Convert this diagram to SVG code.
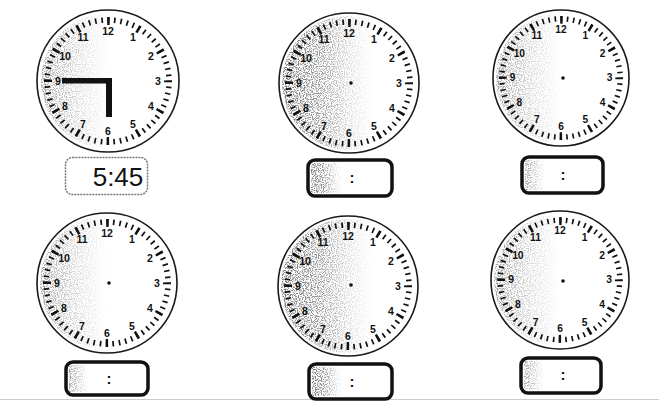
<svg xmlns="http://www.w3.org/2000/svg" width="659" height="401" viewBox="0 0 659 401">
<style>
.bg{fill:#fff}
.rim{fill:#fff;stroke:#1a1a1a;stroke-width:1.6}
.mt{fill:none;stroke:#111;stroke-width:5.5;stroke-dasharray:1.7 4.6879;stroke-dashoffset:0.85}
.ht{fill:none;stroke:#111;stroke-width:8;stroke-dasharray:2.6 28.816;stroke-dashoffset:1.3}
.num{font-family:"Liberation Sans",Arial,sans-serif;font-weight:bold;font-size:10.5px;fill:#111;text-anchor:middle}
.dot{fill:#111}
.box{fill:#fff;stroke:#111;stroke-width:3.5}
.colon{font-family:"Liberation Sans",Arial,sans-serif;font-weight:bold;font-size:15px;fill:#111;text-anchor:middle}
.hand{fill:#111}
</style>
<defs>
<filter id="speckle" x="0" y="0" width="1" height="1" color-interpolation-filters="sRGB">
<feTurbulence type="fractalNoise" baseFrequency="0.85" numOctaves="1" seed="4" result="noise"/>
<feColorMatrix in="noise" type="matrix" values="0 0 0 0 0.3  0 0 0 0 0.3  0 0 0 0 0.3  -6 0 0 0 3.3" result="dots"/>
<feComposite in="dots" in2="SourceGraphic" operator="in"/>
</filter>
<linearGradient id="heavy" x1="0" y1="0" x2="1" y2="0">
<stop offset="0" stop-color="#000" stop-opacity="0.75"/>
<stop offset="0.3" stop-color="#000" stop-opacity="0.55"/>
<stop offset="0.5" stop-color="#000" stop-opacity="0.2"/>
<stop offset="0.68" stop-color="#000" stop-opacity="0"/>
</linearGradient>
<linearGradient id="light" x1="0" y1="0" x2="1" y2="0">
<stop offset="0" stop-color="#000" stop-opacity="0.55"/>
<stop offset="0.25" stop-color="#000" stop-opacity="0.25"/>
<stop offset="0.5" stop-color="#000" stop-opacity="0"/>
</linearGradient>
</defs>
<rect class="bg" width="659" height="401"/>
<line x1="0" y1="399.5" x2="659" y2="399.5" stroke="#ccc" stroke-width="1"/>

<g id="clock1" transform="translate(108,81)">
<circle class="rim" r="71"/>
<circle r="67" fill="url(#light)" filter="url(#speckle)"/>
<circle class="mt" r="61"/>
<circle class="ht" r="60"/>
<text class="num" x="25" y="-40">1</text><text class="num" x="43" y="-21.5">2</text><text class="num" x="50" y="3.5">3</text><text class="num" x="43" y="28.5">4</text><text class="num" x="25" y="46.8">5</text><text class="num" x="0" y="53.5">6</text><text class="num" x="-25" y="46.8">7</text><text class="num" x="-43" y="28.5">8</text><text class="num" x="-50" y="3.5">9</text><text class="num" x="-43" y="-21.5">10</text><text class="num" x="-25" y="-40">11</text><text class="num" x="0" y="-46.5">12</text>
<rect class="hand" x="-46" y="-3" width="50" height="5.5"/>
<rect class="hand" x="-2" y="-3" width="6" height="39"/>
</g>
<g id="display1">
<rect x="65.5" y="157.5" width="82" height="37" rx="7" fill="#fff" stroke="#777" stroke-width="1.5" stroke-dasharray="2 1"/>
<text x="118" y="186" font-family="Liberation Sans,Arial,sans-serif" font-size="26" fill="#111" text-anchor="middle">5:45</text>
</g>

<g id="clock2" transform="translate(349,83)">
<circle class="rim" r="70"/>
<circle r="67" fill="url(#heavy)" filter="url(#speckle)"/>
<circle class="mt" r="61"/>
<circle class="ht" r="60"/>
<text class="num" x="25" y="-40">1</text><text class="num" x="43" y="-21.5">2</text><text class="num" x="50" y="3.5">3</text><text class="num" x="43" y="28.5">4</text><text class="num" x="25" y="46.8">5</text><text class="num" x="0" y="53.5">6</text><text class="num" x="-25" y="46.8">7</text><text class="num" x="-43" y="28.5">8</text><text class="num" x="-50" y="3.5">9</text><text class="num" x="-43" y="-21.5">10</text><text class="num" x="-25" y="-40">11</text><text class="num" x="0" y="-46.5">12</text>
<circle class="dot" cx="2" cy="0" r="1.8"/>
</g>
<g id="box2">
<rect class="box" x="308" y="160" width="84" height="36" rx="7"/>
<rect x="311" y="163" width="46" height="30" fill="url(#heavy)" filter="url(#speckle)"/>
<text class="colon" x="352" y="183">:</text>
</g>

<g id="clock3" transform="translate(561,78)">
<circle class="rim" r="68"/>
<circle r="65" fill="url(#light)" filter="url(#speckle)"/>
<g transform="scale(0.97)">
<circle class="mt" r="61"/>
<circle class="ht" r="60"/>
<text class="num" x="25" y="-40">1</text><text class="num" x="43" y="-21.5">2</text><text class="num" x="50" y="3.5">3</text><text class="num" x="43" y="28.5">4</text><text class="num" x="25" y="46.8">5</text><text class="num" x="0" y="53.5">6</text><text class="num" x="-25" y="46.8">7</text><text class="num" x="-43" y="28.5">8</text><text class="num" x="-50" y="3.5">9</text><text class="num" x="-43" y="-21.5">10</text><text class="num" x="-25" y="-40">11</text><text class="num" x="0" y="-46.5">12</text>
</g>
<circle class="dot" cx="2" cy="0" r="1.8"/>
</g>
<g id="box3">
<rect class="box" x="522" y="157" width="81" height="36" rx="7"/>
<rect x="525" y="160" width="40" height="30" fill="url(#light)" filter="url(#speckle)"/>
<text class="colon" x="563" y="180">:</text>
</g>

<g id="clock4" transform="translate(107,283)">
<circle class="rim" r="70"/>
<circle r="67" fill="url(#light)" filter="url(#speckle)"/>
<circle class="mt" r="61"/>
<circle class="ht" r="60"/>
<text class="num" x="25" y="-40">1</text><text class="num" x="43" y="-21.5">2</text><text class="num" x="50" y="3.5">3</text><text class="num" x="43" y="28.5">4</text><text class="num" x="25" y="46.8">5</text><text class="num" x="0" y="53.5">6</text><text class="num" x="-25" y="46.8">7</text><text class="num" x="-43" y="28.5">8</text><text class="num" x="-50" y="3.5">9</text><text class="num" x="-43" y="-21.5">10</text><text class="num" x="-25" y="-40">11</text><text class="num" x="0" y="-46.5">12</text>
<circle class="dot" cx="2" cy="0" r="1.8"/>
</g>
<g id="box4">
<rect class="box" x="66" y="362" width="82" height="33" rx="7"/>
<rect x="69" y="365" width="40" height="27" fill="url(#light)" filter="url(#speckle)"/>
<text class="colon" x="109" y="384">:</text>
</g>

<g id="clock5" transform="translate(348,286)">
<circle class="rim" r="70"/>
<circle r="67" fill="url(#heavy)" filter="url(#speckle)"/>
<circle class="mt" r="61"/>
<circle class="ht" r="60"/>
<text class="num" x="25" y="-40">1</text><text class="num" x="43" y="-21.5">2</text><text class="num" x="50" y="3.5">3</text><text class="num" x="43" y="28.5">4</text><text class="num" x="25" y="46.8">5</text><text class="num" x="0" y="53.5">6</text><text class="num" x="-25" y="46.8">7</text><text class="num" x="-43" y="28.5">8</text><text class="num" x="-50" y="3.5">9</text><text class="num" x="-43" y="-21.5">10</text><text class="num" x="-25" y="-40">11</text><text class="num" x="0" y="-46.5">12</text>
<circle class="dot" cx="3" cy="-1" r="1.8"/>
</g>
<g id="box5">
<rect class="box" x="309" y="364" width="83" height="35" rx="7"/>
<rect x="312" y="367" width="44" height="29" fill="url(#heavy)" filter="url(#speckle)"/>
<text class="colon" x="352" y="387">:</text>
</g>

<g id="clock6" transform="translate(560,280)">
<circle class="rim" r="69"/>
<circle r="66" fill="url(#light)" filter="url(#speckle)"/>
<g transform="scale(0.98)">
<circle class="mt" r="61"/>
<circle class="ht" r="60"/>
<text class="num" x="25" y="-40">1</text><text class="num" x="43" y="-21.5">2</text><text class="num" x="50" y="3.5">3</text><text class="num" x="43" y="28.5">4</text><text class="num" x="25" y="46.8">5</text><text class="num" x="0" y="53.5">6</text><text class="num" x="-25" y="46.8">7</text><text class="num" x="-43" y="28.5">8</text><text class="num" x="-50" y="3.5">9</text><text class="num" x="-43" y="-21.5">10</text><text class="num" x="-25" y="-40">11</text><text class="num" x="0" y="-46.5">12</text>
</g>
<circle class="dot" cx="3" cy="1" r="1.8"/>
</g>
<g id="box6">
<rect class="box" x="521" y="358" width="80" height="35" rx="7"/>
<rect x="524" y="361" width="40" height="29" fill="url(#light)" filter="url(#speckle)"/>
<text class="colon" x="563" y="380">:</text>
</g>

<g id="connectors"/>
</svg>
